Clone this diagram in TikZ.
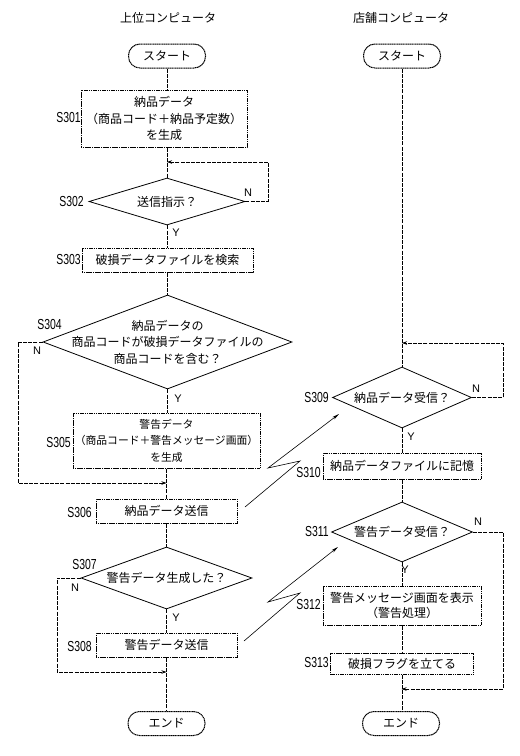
\documentclass[tikz,border=0pt]{standalone}
\usepackage{fontspec}
\setmainfont{Noto Sans CJK JP}
\newfontfamily\labfont[FakeStretch=0.72]{Liberation Sans}
\newfontfamily\ynfont{Liberation Sans}
\usetikzlibrary{shapes.geometric,arrows.meta}
\tikzset{
  jtext/.style={font=\fontsize{12}{16.5}\selectfont, align=center},
  boxline/.style={line width=1pt, dash pattern=on 1.3pt off 0.5pt},
  procbox/.style={draw, boxline, inner sep=0pt, jtext},
  termbox/.style={draw, boxline, rounded corners=11.5pt, minimum width=77pt, minimum height=24pt, inner sep=0pt, jtext},
  decbox/.style={draw, diamond, line width=0.8pt, inner sep=0pt},
  steplab/.style={anchor=east, inner sep=0pt, font=\labfont\fontsize{14.5}{14.5}\selectfont},
  yn/.style={inner sep=0pt, font=\ynfont\fontsize{11}{11}\selectfont},
  conn/.style={line width=0.7pt, dash pattern=on 4pt off 1.2pt},
  retarrow/.style={conn, -{Stealth[length=5pt,width=3.5pt]}},
  bolt/.style={line width=0.6pt, -{Stealth[length=7pt,width=3pt]}},
  title/.style={font=\fontsize{12}{12}\selectfont, inner sep=0pt}
}
\begin{document}
\begin{tikzpicture}[x=1pt,y=-1pt]
\useasboundingbox (0,0) rectangle (520,756);

% titles
\node[title] (tL) at (168,18) {上位コンピュータ};
\node[title] (tR) at (401,18) {店舗コンピュータ};

% ---------- left column ----------
\node[termbox] (sL) at (167,56) {スタート};
\node[procbox, minimum width=166pt, minimum height=57pt] (b301) at (164,118.5)
  {納品データ\\（商品コード＋納品予定数）\\を生成};
\node[decbox, minimum width=156pt, minimum height=47pt] (d302) at (167,201.5) {};
\node[jtext] (t302) at (d302.center) {送信指示？};
\node[procbox, minimum width=171pt, minimum height=24pt] (b303) at (167.5,260) {破損データファイルを検索};
\node[decbox, minimum width=249pt, minimum height=94pt] (d304) at (167.5,342) {};
\node[jtext] (t304) at (d304.center) {納品データの\\商品コードが破損データファイルの\\商品コードを含む？};
\node[procbox, minimum width=187pt, minimum height=55pt, font=\fontsize{10.8}{16.5}\selectfont] (b305) at (166.5,440.5)
  {警告データ\\（商品コード＋警告メッセージ画面）\\を生成};
\node[procbox, minimum width=141pt, minimum height=24pt] (b306) at (166.5,511) {納品データ送信};
\node[decbox, minimum width=171pt, minimum height=62pt] (d307) at (166.5,578) {};
\node[jtext] (t307) at (d307.center) {警告データ生成した？};
\node[procbox, minimum width=141pt, minimum height=24pt] (b308) at (166.5,645) {警告データ送信};
\node[termbox] (eL) at (166.5,723.5) {エンド};

% ---------- right column ----------
\node[termbox] (sR) at (402,56) {スタート};
\node[decbox, minimum width=139pt, minimum height=61pt] (d309) at (402,397.5) {};
\node[jtext] (t309) at (d309.center) {納品データ受信？};
\node[procbox, minimum width=158pt, minimum height=26pt] (b310) at (402,466) {納品データファイルに記憶};
\node[decbox, minimum width=141pt, minimum height=60pt] (d311) at (402,532) {};
\node[jtext] (t311) at (d311.center) {警告データ受信？};
\node[procbox, minimum width=158pt, minimum height=39pt, font=\fontsize{12}{15.5}\selectfont] (b312) at (402,605.5)
  {警告メッセージ画面を表示\\（警告処理）};
\node[procbox, minimum width=143pt, minimum height=21pt] (b313) at (402,663.5) {破損フラグを立てる};
\node[termbox] (eR) at (401,723.5) {エンド};

% step labels
\node[steplab] (l301) at (81,118) {S301};
\node[steplab] (l302) at (84,202) {S302};
\node[steplab] (l303) at (81,260) {S303};
\node[steplab] (l304) at (62,325) {S304};
\node[steplab] (l305) at (71,443) {S305};
\node[steplab] (l306) at (92,513) {S306};
\node[steplab] (l307) at (97,565) {S307};
\node[steplab] (l308) at (92,646) {S308};
\node[steplab] (l309) at (329,398) {S309};
\node[steplab] (l310) at (321,473) {S310};
\node[steplab] (l311) at (329,532) {S311};
\node[steplab] (l312) at (321,605) {S312};
\node[steplab] (l313) at (329,663) {S313};

% Y / N labels
\node[yn] (n302) at (248,193) {N};
\node[yn] (y302) at (176,233) {Y};
\node[yn] (n304) at (37,351) {N};
\node[yn] (y304) at (178,399) {Y};
\node[yn] (n307) at (75,588) {N};
\node[yn] (y307) at (176,618) {Y};
\node[yn] (n309) at (476,389) {N};
\node[yn] (y309) at (411,437) {Y};
\node[yn] (n311) at (478,522) {N};
\node[yn] (y311) at (405,570) {Y};

% junction coordinates
\coordinate (j302) at (167,162);
\coordinate (j304) at (166.5,483);
\coordinate (j307) at (166.5,672);
\coordinate (j309) at (402,343);
\coordinate (j311) at (401.5,689);

% main flow left
\draw[conn] (sL) -- (sL |- b301.north);
\draw[conn] (b301.south -| d302.north) -- (d302.north);
\draw[conn] (d302.south) -- (d302.south |- b303.north);
\draw[conn] (b303.south -| d304.north) -- (d304.north);
\draw[conn] (d304.south) -- (d304.south |- b305.north);
\draw[conn] (b305.south) -- (b306.north);
\draw[conn] (b306.south) -- (d307.north);
\draw[conn] (d307.south) -- (b308.north);
\draw[conn] (b308.south) -- (eL.north);

% loops left
\draw[retarrow] (d302.east) -- (268,201.5) -- (268,162) -- (j302);
\draw[retarrow] (d304.west) -- (18,342) -- (18,483) -- (j304);
\draw[retarrow] (d307.west) -- (57,578) -- (57,672) -- (j307);

% main flow right
\draw[conn] (sR.south) -- (d309.north);
\draw[conn] (d309.south) -- (b310.north);
\draw[conn] (b310.south) -- (d311.north);
\draw[conn] (d311.south) -- (b312.north);
\draw[conn] (b312.south -| b313.north) -- (b313.north);
\draw[conn] (b313.south) -- (b313.south |- eR.north);

% loops right
\draw[retarrow] (d309.east) -- (503,397.5) -- (503,343) -- (j309);
\draw[retarrow] (d311.east) -- (503,532) -- (503,689) -- (j311);

% communication bolts
\coordinate (a1) at (245,507);
\coordinate (a2) at (300,461);
\coordinate (a3) at (268,468);
\coordinate (a4) at (339,414);
\draw[bolt] (a1) -- (a2) -- (a3) -- (a4);
\coordinate (c1) at (244,641);
\coordinate (c2) at (300,593);
\coordinate (c3) at (268,602);
\coordinate (c4) at (338,547);
\draw[bolt] (c1) -- (c2) -- (c3) -- (c4);
\end{tikzpicture}
\end{document}
